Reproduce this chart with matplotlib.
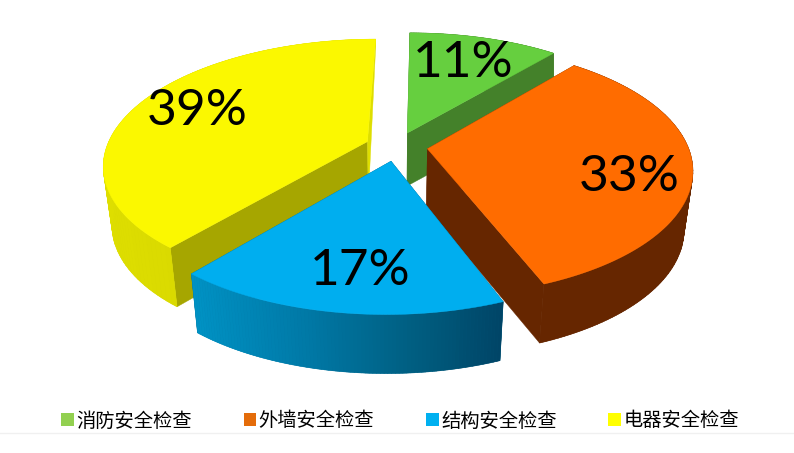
import numpy as np
import matplotlib
matplotlib.use('Agg')
import matplotlib.pyplot as plt
from matplotlib.patches import Patch
from matplotlib.colors import to_rgb

# data
categorias = ['消防安全检查', '外墙安全检查', '结构安全检查', '电器安全检查']
valores = [11, 33, 17, 39]
etiquetas = ['11%', '33%', '17%', '39%']

# colours
col_top = ['#66CF3F', '#FF6C00', '#00AEEF', '#FBF800']
col_legend = ['#92D050', '#E46C0A', '#00B0F0', '#FFFF00']
col_face_start = ['#44812A', '#662600', '#00587A', '#A6A600']
col_face_end = ['#44812A', '#662600', '#00587A', '#DEDE00']
col_wall = [
    [(0, '#44812A'), (1, '#44812A')],
    [(0, '#662600'), (1, '#662600')],
    [(0, '#0092C4'), (0.35, '#007AA8'), (0.7, '#005F82'), (1, '#004566')],
    [(0, '#DEDE00'), (0.5, '#D6D600'), (1, '#E2E200')],
]
pos_etiquetas = [(463, 63), (629, 177), (360, 271), (197, 111)]

# wall height of each slice, and how much it thins towards the back
altura = [53, 59, 59, 59]
afinado = [0, 0, 0, 50]

# projection of the tilted disc, in pixels of the picture
cx, cy = 396.5, 146.5
R, C, K = 260.5, 121.5, 5.85
SKEW = 4.0
EXPLODE = 0.12


def superficie(mid, theta, r=1.0):
    u = EXPLODE * np.sin(mid) + r * np.sin(theta)
    v = EXPLODE * np.cos(mid) + r * np.cos(theta)
    s = K / (K + v)
    return cx + R * u * s + SKEW * v, cy - C * v * s, v


def base(x, y, v, i):
    # lower rim: pulled in at the front
    h = altura[i] - afinado[i] * np.maximum(v, 0)
    shrink = 0.97 + 0.03 * np.clip((v - 0.3) / 0.5, 0, 1)
    return cx + (x - cx) * shrink, y + h


def mezclar(stops, t):
    ts = [p[0] for p in stops]
    rgb = np.array([to_rgb(p[1]) for p in stops])
    return tuple(np.interp(t, ts, rgb[:, i]) for i in range(3))


fig = plt.figure(figsize=(7.94, 4.53), dpi=100)
ax = fig.add_axes([0, 0, 1, 1])
ax.set_xlim(0, 794)
ax.set_ylim(453, 0)
ax.axis('off')

angulos = np.cumsum([0] + valores) / sum(valores) * 2 * np.pi

# back to front: green, yellow, orange, blue
for i in [0, 3, 1, 2]:
    a0, a1 = angulos[i], angulos[i + 1]
    mid = (a0 + a1) / 2
    th = np.linspace(a0, a1, 90)
    x, y, v = superficie(mid, th)
    bx, by = base(x, y, v, i)

    # straight faces
    ax_, ay_, av_ = superficie(mid, a0, 0.0)
    abx, aby = base(ax_, ay_, av_, i)
    for k, col in [(0, col_face_start[i]), (-1, col_face_end[i])]:
        ax.fill([ax_, x[k], bx[k], abx], [ay_, y[k], by[k], aby],
                facecolor=col, edgecolor=col, linewidth=0.3)

    # outer wall, one flat piece under the shading strips
    ax.fill(np.r_[x, bx[::-1]], np.r_[y, by[::-1]], facecolor=mezclar(col_wall[i], 0.5),
            edgecolor='none')
    xmin, xmax = x.min(), x.max()
    for j in range(len(th) - 1):
        t = ((x[j] + x[j + 1]) / 2 - xmin) / (xmax - xmin)
        c = mezclar(col_wall[i], t)
        ax.fill([x[j], x[j + 1], bx[j + 1], bx[j]], [y[j], y[j + 1], by[j + 1], by[j]],
                facecolor=c, edgecolor=c, linewidth=0.4)

    # top
    ax.fill(np.r_[ax_, x], np.r_[ay_, y], facecolor=col_top[i], edgecolor=col_top[i], linewidth=0.3)

for txt, (px, py) in zip(etiquetas, pos_etiquetas):
    ax.text(px, py, txt, fontsize=37, family=['Lato', 'DejaVu Sans'], color='black',
            ha='center', va='center')

# legend
handles = [Patch(facecolor=c, edgecolor='none', label=n) for c, n in zip(col_legend, categorias)]
ax.legend(handles=handles, ncol=4, loc='center', bbox_to_anchor=(400 / 794, 1 - 421 / 453),
          frameon=False, prop={'family': ['Noto Sans CJK SC', 'DejaVu Sans'], 'size': 13.9},
          handlelength=0.66, handleheight=0.66, handletextpad=0.12, columnspacing=2.68,
          borderpad=0, borderaxespad=0)

ax.plot([0, 794], [433, 433], color='#F0F0F0', linewidth=1)

plt.savefig('out.png', dpi=100)
